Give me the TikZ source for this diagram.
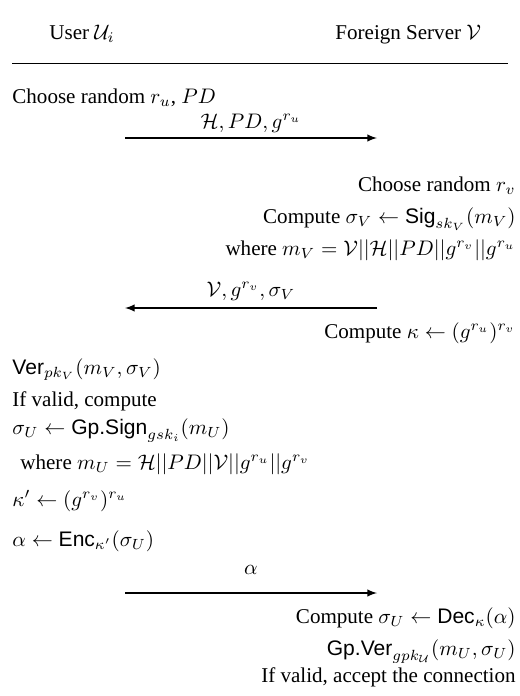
\documentclass[tikz,border=0pt]{standalone}
\usepackage{amsmath}
\usepackage[no-math]{fontspec}
\setmainfont{Liberation Serif}
\setsansfont{Liberation Sans}
\newcommand{\alg}[1]{\text{\sffamily #1}}

\begin{document}
\begin{tikzpicture}[x=0.475pt,y=-0.475pt,
  every node/.style={inner sep=0pt},
  userline/.style={anchor=base west},
  serverline/.style={anchor=base east},
  msg/.style={-latex,semithick}]
  \useasboundingbox (0,0) rectangle (519,696);
  % header
  \node[userline] (user) at (49,39) {User $\mathcal{U}_i$};
  \node[userline] (server) at (335,39) {Foreign Server $\mathcal{V}$};
  \coordinate (RL) at (12,63);
  \coordinate (RR) at (508,63);
  \draw (RL)--(RR);
  % user, step 1
  \node[userline] (u1) at (12,103) {Choose random $r_u$, $PD$};
  % messages
  \coordinate (M1a) at (125,138);
  \coordinate (M1b) at (377,138);
  \draw[msg] (M1a)--(M1b) node[midway,anchor=base,yshift=4.5pt] (m1) {$\mathcal{H}, PD, g^{r_u}$};
  % server
  \node[serverline] (s1) at (516,191) {Choose random $r_v$};
  \node[serverline] (s2) at (516,223) {Compute $\sigma_V \leftarrow \alg{Sig}_{sk_V}(m_V)$};
  \node[serverline] (s3) at (516,255) {where $m_V = \mathcal{V}||\mathcal{H}||PD||g^{r_v}||g^{r_u}$};
  \coordinate (M2a) at (377,308);
  \coordinate (M2b) at (125,308);
  \draw[msg] (M2a)--(M2b) node[midway,anchor=base,yshift=5.5pt] (m2) {$\mathcal{V}, g^{r_v}, \sigma_V$};
  \node[serverline] (s4) at (516,338) {Compute $\kappa \leftarrow (g^{r_u})^{r_v}$};
  % user, step 2
  \node[userline] (u2) at (12,374) {$\alg{Ver}_{pk_V}(m_V, \sigma_V)$};
  \node[userline] (u3) at (12,406) {If valid, compute};
  \node[userline] (u4) at (12,434) {$\sigma_U \leftarrow \alg{Gp.Sign}_{gsk_i}(m_U)$};
  \node[userline] (u5) at (20,469) {where $m_U = \mathcal{H}||PD||\mathcal{V}||g^{r_u}||g^{r_v}$};
  \node[userline] (u6) at (12,506) {$\kappa' \leftarrow (g^{r_v})^{r_u}$};
  \node[userline] (u7) at (12,546) {$\alpha \leftarrow \alg{Enc}_{\kappa'}(\sigma_U)$};
  \coordinate (M3a) at (125,593);
  \coordinate (M3b) at (377,593);
  \draw[msg] (M3a)--(M3b) node[midway,anchor=base,yshift=8.6pt] (m3) {$\alpha$};
  % server, step 2
  \node[serverline] (s5) at (516,623) {Compute $\sigma_U \leftarrow \alg{Dec}_{\kappa}(\alpha)$};
  \node[serverline] (s6) at (516,655) {$\alg{Gp.Ver}_{gpk_{\mathcal{U}}}(m_U, \sigma_U)$};
  \node[serverline] (s7) at (516,682) {If valid, accept the connection};
\end{tikzpicture}
\end{document}
